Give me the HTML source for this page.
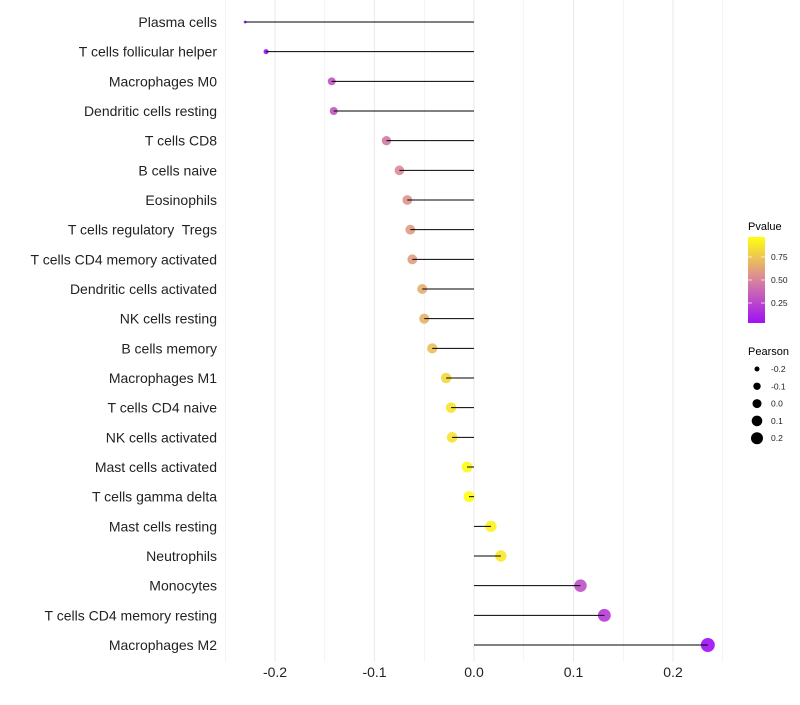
<!DOCTYPE html>
<html><head><meta charset="utf-8"><style>
body{margin:0;background:#fff;font-family:"Liberation Sans",sans-serif}
text{white-space:pre}
</style></head><body>
<svg id="c" width="800" height="700" xmlns="http://www.w3.org/2000/svg" style="font-family:'Liberation Sans',sans-serif">
<defs><linearGradient id="pg" x1="0" y1="1" x2="0" y2="0">
<stop offset="0" stop-color="#a010f5"/><stop offset="0.5" stop-color="#d8849e"/><stop offset="1" stop-color="#ffff10"/></linearGradient></defs>
</svg>
<script>
const cells=["Plasma cells","T cells follicular helper","Macrophages M0","Dendritic cells resting","T cells CD8","B cells naive","Eosinophils","T cells regulatory  Tregs","T cells CD4 memory activated","Dendritic cells activated","NK cells resting","B cells memory","Macrophages M1","T cells CD4 naive","NK cells activated","Mast cells activated","T cells gamma delta","Mast cells resting","Neutrophils","Monocytes","T cells CD4 memory resting","Macrophages M2"];
const pearson=[-0.230,-0.209,-0.143,-0.141,-0.088,-0.075,-0.067,-0.064,-0.062,-0.052,-0.050,-0.042,-0.028,-0.023,-0.022,-0.007,-0.005,0.017,0.027,0.107,0.131,0.235];
const pvalue=[0.01,0.03,0.30,0.31,0.45,0.52,0.57,0.59,0.60,0.66,0.68,0.73,0.82,0.86,0.86,0.95,0.97,0.92,0.88,0.29,0.20,0.01];
const xTicks=[-0.2,-0.1,0.0,0.1,0.2];
const xTickLabels=["-0.2","-0.1","0.0","0.1","0.2"];
const NS="http://www.w3.org/2000/svg",svg=document.getElementById('c');
const X=v=>474+v*995, Y=i=>22+i*(623/21);
const mk=(t,a,p)=>{const e=document.createElementNS(NS,t);for(const k in a)e.setAttribute(k,a[k]);(p||svg).appendChild(e);return e;};
function lerp(a,b,t){return a.map((v,i)=>Math.round(v+(b[i]-v)*t));}
function col(p){const s=[[160,16,245],[216,132,158],[255,255,16]];const t=Math.max(0,Math.min(1,(p-0.03)/0.94));const c=t<0.5?lerp(s[0],s[1],t*2):lerp(s[1],s[2],(t-0.5)*2);return `rgb(${c})`;}
function rad(v){return Math.max(1.2,7*Math.pow(Math.max(0,(v+0.235)/0.47),0.35));}
// grid
for(let v=-0.25;v<=0.251;v+=0.05){const g=mk('line',{x1:X(v),x2:X(v),y1:0,y2:662,stroke:'#ebebeb','stroke-width':Math.abs(Math.round(v*20))%2?0.6:1.1});

}
xTicks.forEach((v,i)=>{const t=mk('text',{x:X(v),y:677,'text-anchor':'middle','font-size':14,fill:'#222'});t.textContent=xTickLabels[i];

});
cells.forEach((c,i)=>{const y=Y(i);
const d=mk('circle',{cx:X(pearson[i]),cy:y,r:rad(pearson[i]),fill:col(pvalue[i]),'fill-opacity':0.9});


const l=mk('line',{x1:X(0),x2:X(pearson[i]),y1:y,y2:y,stroke:'#000','stroke-width':1});


const t=mk('text',{x:217,y:y+5,'text-anchor':'end','font-size':14,fill:'#222'});t.textContent=c;

});
// legend
const lt=mk('text',{x:748,y:230,'font-size':11,fill:'#000'});lt.textContent='Pvalue';


const cb=mk('rect',{x:748,y:237,width:17,height:86,fill:'url(#pg)'});


[[0.75,257],[0.50,280],[0.25,303]].forEach(([v,y])=>{mk('line',{x1:748,x2:752,y1:y,y2:y,stroke:'#fff','stroke-opacity':0.7});mk('line',{x1:761,x2:765,y1:y,y2:y,stroke:'#fff','stroke-opacity':0.7});
const t=mk('text',{x:771,y:y+3,'font-size':8.5,fill:'#222'});t.textContent=v.toFixed(2);

});
const st=mk('text',{x:748,y:355,'font-size':11,fill:'#000'});st.textContent='Pearson';


[-0.2,-0.1,0,0.1,0.2].forEach((v,i)=>{const y=369+i*17.3;
const c=mk('circle',{cx:757,cy:y,r:[2.5,3.7,4.5,5.3,6][i],fill:'#000'});


const t=mk('text',{x:771,y:y+3,'font-size':8.5,fill:'#222'});t.textContent=v.toFixed(1);

});
</script>
</body></html>
